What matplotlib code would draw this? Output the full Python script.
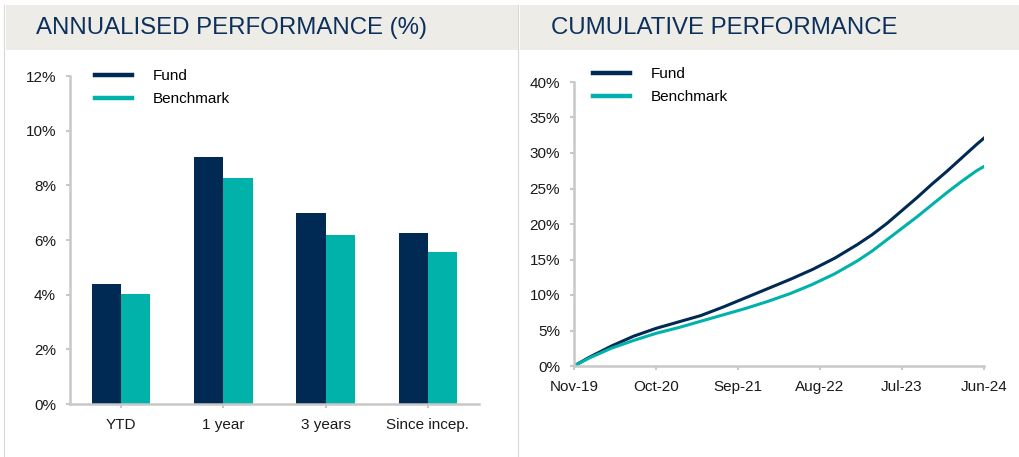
import matplotlib
matplotlib.use("Agg")
import matplotlib.pyplot as plt
from matplotlib.patches import Rectangle
from matplotlib.lines import Line2D
from matplotlib.ticker import FuncFormatter
import numpy as np

plt.rcParams["font.family"] = ["Liberation Sans", "DejaVu Sans"]

# annualised performance (%)
periods = ["YTD", "1 year", "3 years", "Since incep."]
fund_ann = [4.40, 9.04, 6.97, 6.27]
bench_ann = [4.02, 8.25, 6.18, 5.55]

# cumulative performance (%), month index from Nov-19
months = [0, 2, 5, 8, 11, 14, 17, 20, 23, 26, 29, 32, 35, 38, 40, 42, 44, 46, 48,
          50, 52, 54, 55]
fund_cum = [0, 1.2, 2.8, 4.2, 5.3, 6.2, 7.1, 8.3, 9.6, 10.9, 12.2, 13.6, 15.2,
            17.1, 18.5, 20.1, 21.9, 23.7, 25.6, 27.4, 29.3, 31.2, 32.1]
bench_cum = [0, 1.1, 2.5, 3.6, 4.6, 5.4, 6.3, 7.2, 8.1, 9.1, 10.2, 11.5, 13.0,
             14.8, 16.2, 17.8, 19.4, 21.0, 22.7, 24.4, 26.0, 27.5, 28.1]
date_ticks = [0, 11, 22, 33, 44, 55]
date_labels = ["Nov-19", "Oct-20", "Sep-21", "Aug-22", "Jul-23", "Jun-24"]

NAVY = "#002a54"
TEAL = "#00b2a9"
GRID = "#c8c8c8"
TITLE = "#0c2f5c"
W, H = 1019, 457

fig = plt.figure(figsize=(W / 100, H / 100), dpi=100)


def fx(px):
    return px / W


def fy(py):
    return 1 - py / H


# header bands and panel borders
fig.patches.append(Rectangle((fx(6), fy(50)), fx(512), 45 / H, transform=fig.transFigure,
                             facecolor="#edece7", edgecolor="none", zorder=0))
fig.patches.append(Rectangle((fx(520), fy(50)), fx(499), 45 / H, transform=fig.transFigure,
                             facecolor="#edece7", edgecolor="none", zorder=0))
for xx in [4, 518]:
    fig.lines.append(Line2D([fx(xx), fx(xx)], [0, fy(5)], transform=fig.transFigure,
                            color="#d9d9d9", lw=0.8))
fig.text(fx(36), fy(28), "ANNUALISED PERFORMANCE (%)", fontsize=17.3, color=TITLE,
         va="center", ha="left")
fig.text(fx(551), fy(28), "CUMULATIVE PERFORMANCE", fontsize=17.3, color=TITLE,
         va="center", ha="left")


def style(ax):
    for s in ["top", "right"]:
        ax.spines[s].set_visible(False)
    for s in ["left", "bottom"]:
        ax.spines[s].set_color(GRID)
        ax.spines[s].set_linewidth(1.8)
    ax.tick_params(length=3, width=1.5, color=GRID, labelsize=11, labelcolor="#1a1a1a")
    ax.tick_params(axis="y", pad=7)
    ax.tick_params(axis="x", pad=7)


def add_legend(ax, x0, y0):
    ax.legend(handles=[Line2D([], [], color=NAVY, lw=3.2), Line2D([], [], color=TEAL, lw=3.2)],
              labels=["Fund", "Benchmark"], frameon=False, fontsize=11,
              loc="upper left", bbox_to_anchor=(fx(x0), fy(y0)), bbox_transform=fig.transFigure,
              borderpad=0, borderaxespad=0, handlelength=2.45, handletextpad=1.3,
              labelspacing=0.6)


# left: bar chart
ax1 = fig.add_axes([fx(70), fy(404), fx(409), 328 / H])
x = np.arange(len(periods))
bw = 0.285
ax1.bar(x - bw / 2, fund_ann, bw, color=NAVY, label="Fund")
ax1.bar(x + bw / 2, bench_ann, bw, color=TEAL, label="Benchmark")
ax1.set_xlim(-0.5, 3.5)
ax1.set_ylim(0, 12)
ax1.set_yticks(range(0, 13, 2))
ax1.yaxis.set_major_formatter(FuncFormatter(lambda v, p: f"{v:.0f}%"))
ax1.set_xticks(x)
ax1.set_xticklabels(periods)
style(ax1)
add_legend(ax1, 95, 69)

# right: line chart
ax2 = fig.add_axes([fx(574), fy(366), fx(410), 284 / H])
ax2.plot(months, fund_cum, color=NAVY, lw=2.2, label="Fund")
ax2.plot(months, bench_cum, color=TEAL, lw=2.2, label="Benchmark")
ax2.set_xlim(0, 55)
ax2.set_ylim(0, 40)
ax2.set_yticks(range(0, 41, 5))
ax2.yaxis.set_major_formatter(FuncFormatter(lambda v, p: f"{v:.0f}%"))
ax2.set_xticks(date_ticks)
ax2.set_xticklabels(date_labels)
style(ax2)
add_legend(ax2, 593, 67)

fig.savefig("out.png", dpi=100)
